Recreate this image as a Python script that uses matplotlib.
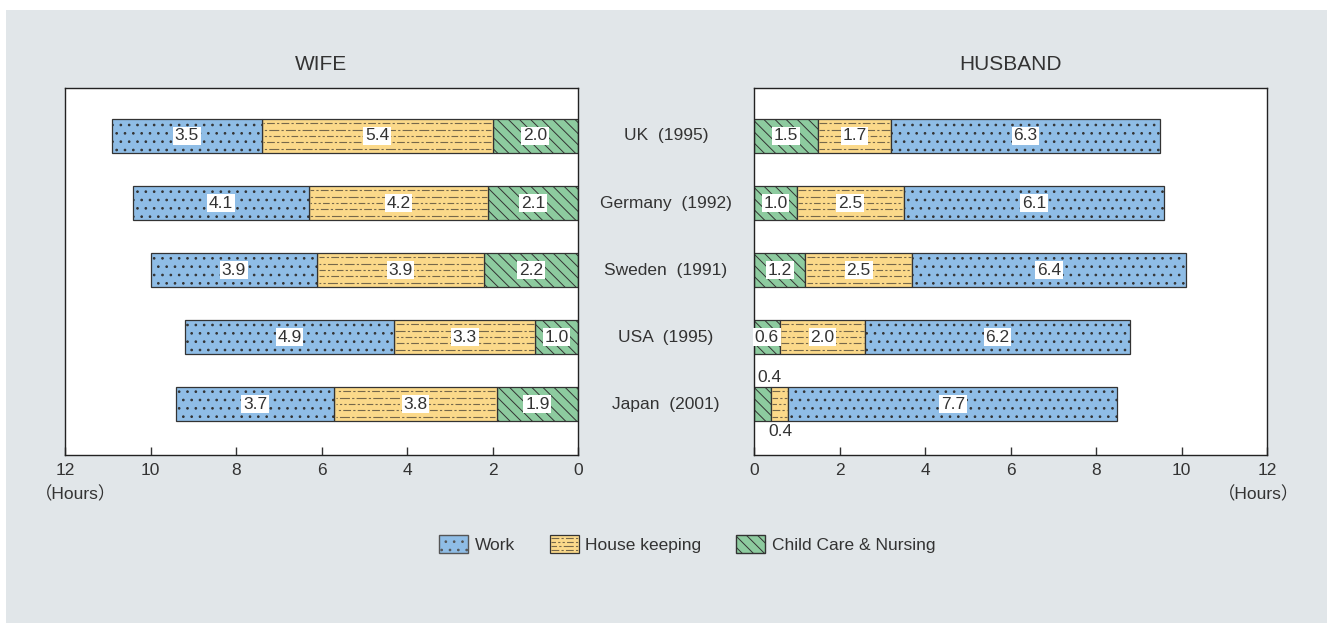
import matplotlib.pyplot as plt
import matplotlib.transforms as mtransforms
from matplotlib.patches import Rectangle, Patch
from matplotlib.lines import Line2D

plt.rcParams['font.family'] = ['Liberation Sans', 'Noto Sans CJK JP', 'DejaVu Sans']
plt.rcParams['hatch.linewidth'] = 0.7
plt.rcParams['text.color'] = '#333333'
plt.rcParams['xtick.color'] = '#333333'

countries = ['UK  (1995)', 'Germany  (1992)', 'Sweden  (1991)', 'USA  (1995)', 'Japan  (2001)']

wife_work = [3.5, 4.1, 3.9, 4.9, 3.7]
wife_house = [5.4, 4.2, 3.9, 3.3, 3.8]
wife_child = [2.0, 2.1, 2.2, 1.0, 1.9]

husband_work = [6.3, 6.1, 6.4, 6.2, 7.7]
husband_house = [1.7, 2.5, 2.5, 2.0, 0.4]
husband_child = [1.5, 1.0, 1.2, 0.6, 0.4]

C_WORK = '#8fbde6'
C_HOUSE = '#fbd98a'
C_CHILD = '#8dcb9f'
EDGE = '#333333'
DASH = '#76684a'
BG = '#e1e6e9'
CHILD_HATCH = '\\\\\\'

# dash-dot fill pattern for house keeping
DASH_STYLES = [(0, (7, 2, 2, 2)), (4, (9, 2, 2, 2)), (2, (6, 2, 2, 2, 2, 2))]

fig = plt.figure(figsize=(13.27, 6.23), dpi=100, facecolor='white')
fig.patches.append(Rectangle((6 / 1327, 0), 1, 1 - 10 / 623, transform=fig.transFigure,
                             facecolor=BG, edgecolor='none', zorder=-10))

ax_w = fig.add_axes([65 / 1327, 1 - 455 / 623, 513 / 1327, 367 / 623])
ax_h = fig.add_axes([754 / 1327, 1 - 455 / 623, 513 / 1327, 367 / 623])

ypos = list(range(len(countries)))
box = dict(facecolor='white', edgecolor='none', pad=1.2)
FS = 12.5


def stack(ax, segments):
    left = [0.0] * len(ypos)
    for key, vals in segments:
        if key == 'work':
            ax.barh(ypos, vals, left=left, height=0.5, color=C_WORK, hatch='..',
                    edgecolor=EDGE, linewidth=0.9)
        elif key == 'child':
            ax.barh(ypos, vals, left=left, height=0.5, color=C_CHILD, hatch=CHILD_HATCH,
                    edgecolor=EDGE, linewidth=0.9)
        else:
            ax.barh(ypos, vals, left=left, height=0.5, color=C_HOUSE,
                    edgecolor=EDGE, linewidth=0.9)
            for i, v in enumerate(vals):
                for k, off in enumerate([-0.19, -0.095, 0.0, 0.095, 0.19]):
                    ax.plot([left[i] + 0.03, left[i] + v - 0.03], [i + off, i + off], color=DASH,
                            lw=0.8, linestyle=DASH_STYLES[k % 3], zorder=1.6)
        for i, v in enumerate(vals):
            xc = left[i] + v / 2
            if v < 0.5:
                # too narrow for an inside label
                if key == 'child':
                    ax.text(xc + 0.17, i - 0.29, f'{v:.1f}', ha='center', va='bottom', fontsize=FS)
                else:
                    ax.text(xc + 0.03, i + 0.3, f'{v:.1f}', ha='center', va='top', fontsize=FS)
            else:
                ax.text(xc, i, f'{v:.1f}', ha='center', va='center', fontsize=FS, bbox=box)
        left = [l + v for l, v in zip(left, vals)]


stack(ax_w, [('child', wife_child), ('house', wife_house), ('work', wife_work)])
stack(ax_h, [('child', husband_child), ('house', husband_house), ('work', husband_work)])

for ax, title in [(ax_w, 'WIFE'), (ax_h, 'HUSBAND')]:
    ax.set_ylim(4.76, -0.716)
    ax.set_yticks([])
    ax.set_xticks(range(0, 13, 2))
    ax.tick_params(axis='x', direction='in', length=6, width=1, labelsize=12.5, pad=6)
    for s in ax.spines.values():
        s.set_color('#222222')
        s.set_linewidth(1)
    ax.set_title(title, fontsize=15, pad=13)

ax_w.set_xlim(12, 0)
ax_h.set_xlim(0, 12)

ax_w.text(0.02, -0.083, '（Hours）', transform=ax_w.transAxes, ha='center', va='top', fontsize=12.5)
ax_h.text(0.983, -0.083, '（Hours）', transform=ax_h.transAxes, ha='center', va='top', fontsize=12.5)

# country names between the two panels
trans = mtransforms.blended_transform_factory(fig.transFigure, ax_h.transData)
for i, name in enumerate(countries):
    fig.text(666 / 1327, i, name, transform=trans, ha='center', va='center', fontsize=12.5)


class HouseHandler:
    def legend_artist(self, legend, orig_handle, fontsize, handlebox):
        x0, y0 = -handlebox.xdescent, -handlebox.ydescent
        w, h = handlebox.width, handlebox.height
        tr = handlebox.get_transform()
        rect = Rectangle((x0, y0), w, h, facecolor=C_HOUSE, edgecolor=EDGE, lw=0.9, transform=tr)
        handlebox.add_artist(rect)
        for k, f in enumerate([0.2, 0.4, 0.6, 0.8]):
            handlebox.add_artist(Line2D([x0 + 1, x0 + w - 1], [y0 + f * h] * 2, color=DASH, lw=0.8,
                                        linestyle=DASH_STYLES[k % 3], transform=tr))
        return rect


house_handle = Patch(facecolor=C_HOUSE, edgecolor=EDGE, label='House keeping')
handles = [
    Patch(facecolor=C_WORK, hatch='..', edgecolor='#555555', label='Work'),
    house_handle,
    Patch(facecolor=C_CHILD, hatch=CHILD_HATCH, edgecolor='#333333', label='Child Care & Nursing'),
]
fig.legend(handles=handles, loc='center', bbox_to_anchor=(687 / 1327, 1 - 544 / 623), ncol=3,
           frameon=False, fontsize=12.5, handlelength=1.7, handleheight=1.3,
           handletextpad=0.35, columnspacing=2.0, handler_map={house_handle: HouseHandler()})

fig.savefig('out.png', dpi=100, facecolor=fig.get_facecolor())
